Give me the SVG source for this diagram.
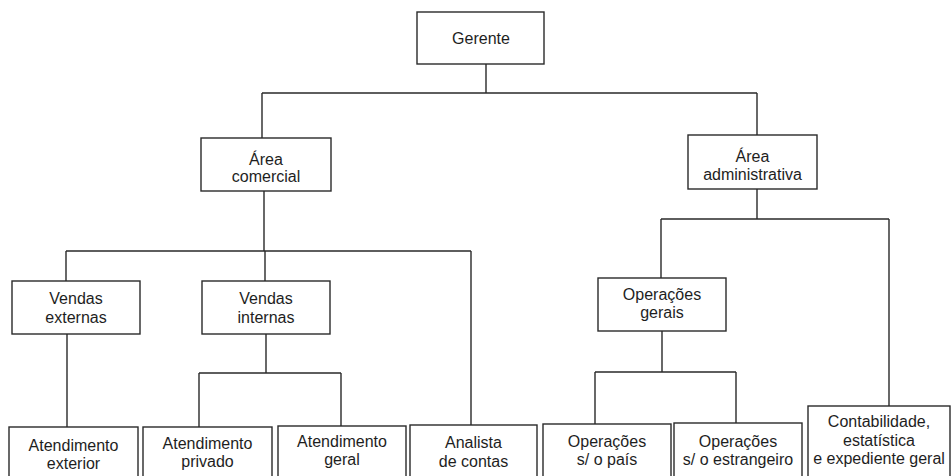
<svg xmlns="http://www.w3.org/2000/svg" width="951" height="476" viewBox="0 0 951 476">
<style>
.box{fill:#fff;stroke:#2a2a2a;stroke-width:1.4}
.ln{fill:none;stroke:#2a2a2a;stroke-width:1.4}
text{font-family:"Liberation Sans",Arial,sans-serif;font-size:16px;fill:#1e1e1e;text-anchor:middle}
</style>
<rect width="951" height="476" fill="#fff"/>
<g id="connectors">
<path class="ln" d="M486 64V93M262 93H757M262 93V138M757 93V135"/>
<path class="ln" d="M264 191V251M66 251H471M66 251V281M265 251V281M471 251V425"/>
<path class="ln" d="M67 334V427M266 334V373M199 373H341M199 373V427M341 373V426"/>
<path class="ln" d="M757 189V219M661 219H889M661 219V278M889 219V406"/>
<path class="ln" d="M662 331V372M595 372H736M595 372V424M736 372V423"/>
</g>
<g id="gerente"><rect class="box" x="417" y="12" width="127" height="52"/><text x="481" y="44">Gerente</text></g>
<g id="area-comercial"><rect class="box" x="201" y="138" width="130" height="53"/><text x="266" y="165">Área</text><text x="266" y="182">comercial</text></g>
<g id="area-administrativa"><rect class="box" x="688" y="135" width="129" height="54"/><text x="752.5" y="162">Área</text><text x="752.5" y="179.5">administrativa</text></g>
<g id="vendas-externas"><rect class="box" x="12" y="281" width="128" height="53"/><text x="76" y="304">Vendas</text><text x="76" y="322.5">externas</text></g>
<g id="vendas-internas"><rect class="box" x="202" y="281" width="128" height="53"/><text x="266" y="304">Vendas</text><text x="266" y="322.5">internas</text></g>
<g id="operacoes-gerais"><rect class="box" x="598" y="278" width="128" height="53"/><text x="662" y="300">Operações</text><text x="662" y="318">gerais</text></g>
<g id="atendimento-exterior"><rect class="box" x="9" y="427" width="129" height="55"/><text x="73.5" y="451">Atendimento</text><text x="73.5" y="469">exterior</text></g>
<g id="atendimento-privado"><rect class="box" x="143" y="427" width="129" height="55"/><text x="207.5" y="449">Atendimento</text><text x="207.5" y="467">privado</text></g>
<g id="atendimento-geral"><rect class="box" x="278" y="426" width="128" height="56"/><text x="342" y="447">Atendimento</text><text x="342" y="465">geral</text></g>
<g id="analista-de-contas"><rect class="box" x="410" y="425" width="127" height="57"/><text x="473.5" y="448">Analista</text><text x="473.5" y="466.5">de contas</text></g>
<g id="operacoes-pais"><rect class="box" x="543" y="424" width="128" height="58"/><text x="607" y="447">Operações</text><text x="607" y="465">s/ o país</text></g>
<g id="operacoes-estrangeiro"><rect class="box" x="674" y="423" width="128" height="59"/><text x="738" y="447">Operações</text><text x="738" y="465">s/ o estrangeiro</text></g>
<g id="contabilidade"><rect class="box" x="808" y="406" width="142" height="76"/><text x="879" y="427">Contabilidade,</text><text x="879" y="446">estatística</text><text x="879" y="464">e expediente geral</text></g>
</svg>
